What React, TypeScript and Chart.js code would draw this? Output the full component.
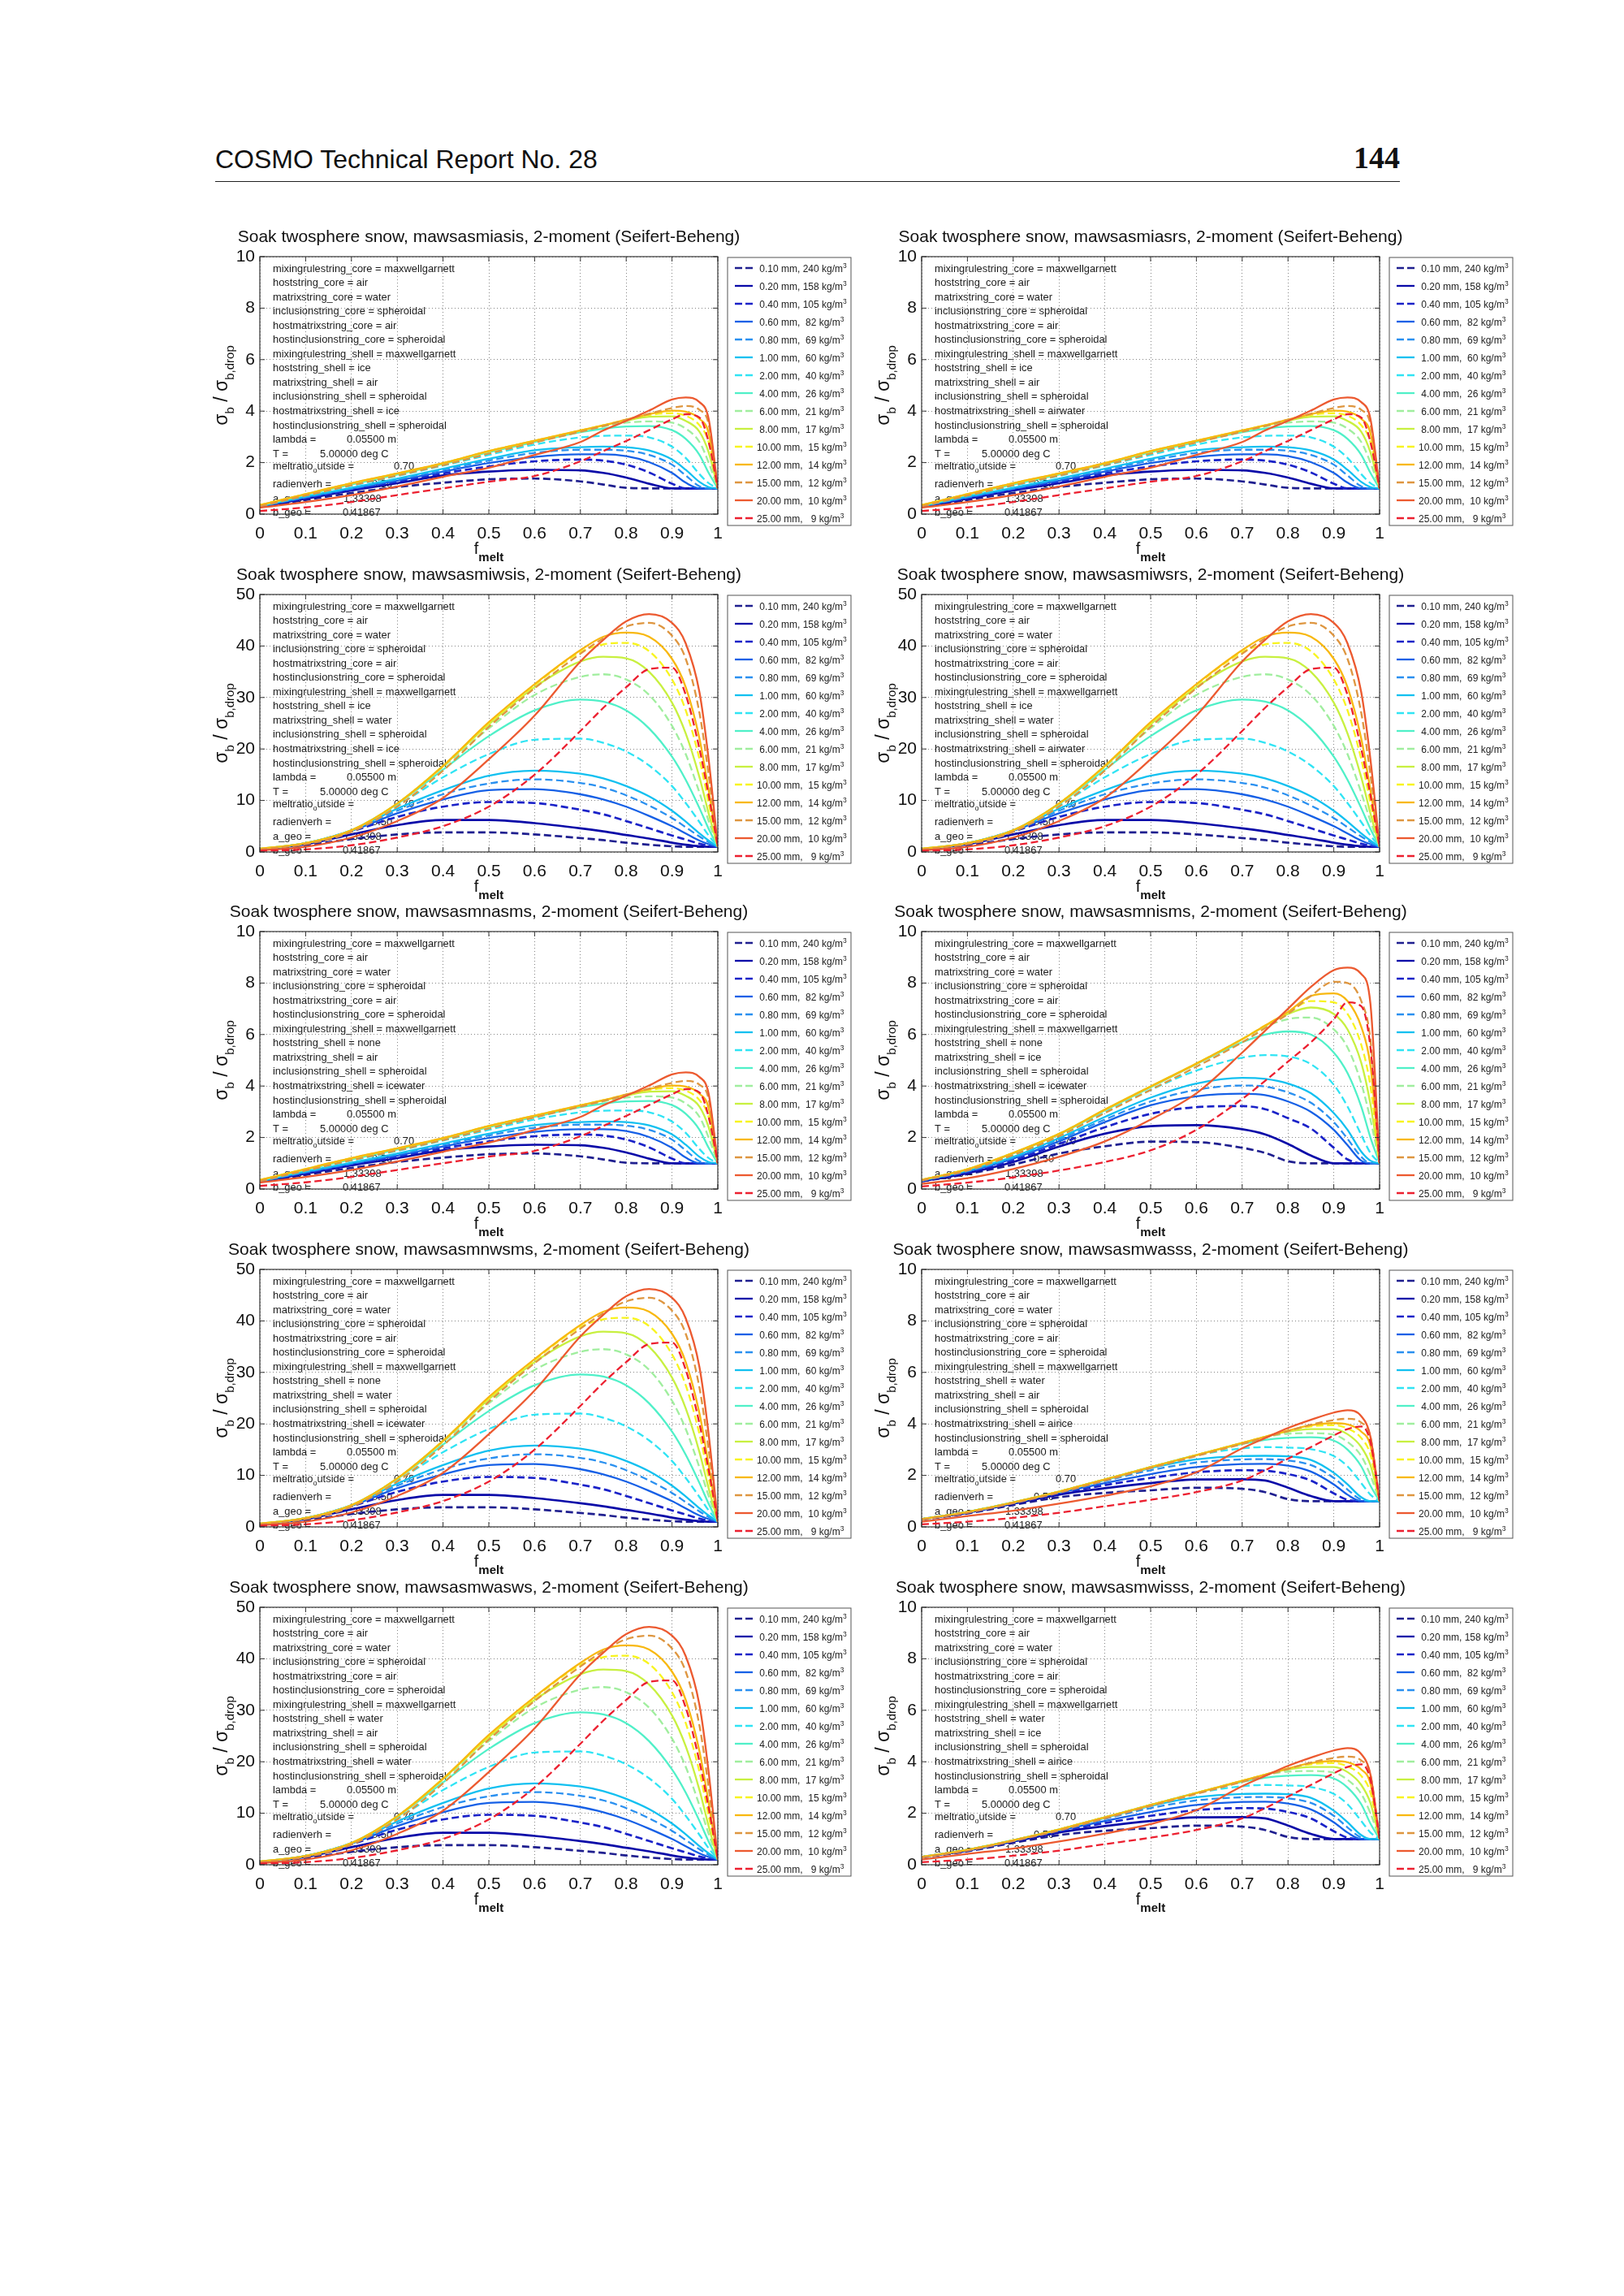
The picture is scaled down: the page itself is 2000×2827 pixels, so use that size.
import React, { useEffect, useRef } from "react";
import { Chart, registerables } from "chart.js";

Chart.register(...registerables);

const FONT = '"Liberation Sans", Arial, Helvetica, sans-serif';

// melt fraction sample points shared by all curves
const fMelt = [0, 0.1, 0.2, 0.3, 0.4, 0.5, 0.6, 0.7, 0.75, 0.8, 0.85, 0.9, 0.93, 0.96, 0.98, 1.0];

// legend categories
const diameterMm = [0.1, 0.2, 0.4, 0.6, 0.8, 1, 2, 4, 6, 8, 10, 12, 15, 20, 25];
const densityKg = [240, 158, 105, 82, 69, 60, 40, 26, 21, 17, 15, 14, 12, 10, 9];

const lineColors = [
  "#1f1f8f", "#0a0aa8", "#1a22c8", "#1660e6", "#2a90f0",
  "#12c0f0", "#30e4f4", "#50f0c8", "#a0ee9e", "#c8f040",
  "#f8f420", "#f8b810", "#de9640", "#ec5a30", "#ec2030",
];
const dashedSeries = [true, false, true, false, true, false, true, false, true, false, true, false, true, false, true];

// sigma_b / sigma_b,drop, ice shell in air (miasis, miasrs, nasms)
const ratioIceAir = [
  [0.28, 0.55, 0.82, 1.05, 1.22, 1.35, 1.38, 1.27, 1.15, 1.02, 1.0, 1.0, 1.0, 1.0, 1.0, 1.0],
  [0.3, 0.6, 0.92, 1.2, 1.5, 1.65, 1.72, 1.7, 1.6, 1.42, 1.18, 1.0, 1.0, 1.0, 1.0, 1.0],
  [0.3, 0.62, 0.95, 1.25, 1.58, 1.85, 2.05, 2.12, 2.08, 1.92, 1.62, 1.18, 1.0, 1.0, 1.0, 1.0],
  [0.3, 0.64, 0.98, 1.3, 1.65, 1.98, 2.22, 2.32, 2.32, 2.25, 2.02, 1.6, 1.22, 1.0, 1.0, 1.0],
  [0.3, 0.66, 1.0, 1.35, 1.72, 2.08, 2.38, 2.5, 2.5, 2.46, 2.3, 1.92, 1.5, 1.08, 1.0, 1.0],
  [0.3, 0.68, 1.02, 1.38, 1.76, 2.15, 2.48, 2.6, 2.62, 2.6, 2.47, 2.12, 1.72, 1.25, 1.05, 1.0],
  [0.32, 0.72, 1.1, 1.48, 1.88, 2.3, 2.7, 2.98, 3.04, 3.05, 2.98, 2.62, 2.18, 1.55, 1.2, 1.0],
  [0.33, 0.75, 1.15, 1.53, 1.94, 2.4, 2.8, 3.18, 3.32, 3.4, 3.42, 3.26, 2.92, 2.3, 1.6, 1.0],
  [0.34, 0.76, 1.17, 1.56, 1.96, 2.43, 2.83, 3.22, 3.4, 3.55, 3.6, 3.55, 3.32, 2.8, 2.0, 1.0],
  [0.35, 0.77, 1.19, 1.57, 1.97, 2.44, 2.84, 3.24, 3.44, 3.63, 3.78, 3.8, 3.62, 3.2, 2.4, 1.0],
  [0.35, 0.78, 1.2, 1.58, 1.98, 2.45, 2.85, 3.25, 3.45, 3.66, 3.85, 3.92, 3.82, 3.45, 2.8, 1.0],
  [0.35, 0.78, 1.2, 1.58, 1.98, 2.45, 2.85, 3.25, 3.45, 3.67, 3.88, 4.02, 3.98, 3.7, 3.15, 1.0],
  [0.3, 0.72, 1.12, 1.5, 1.9, 2.35, 2.78, 3.2, 3.42, 3.66, 3.9, 4.12, 4.2, 4.05, 3.5, 1.0],
  [0.25, 0.47, 0.74, 1.07, 1.45, 1.8, 2.3, 2.8, 3.25, 3.62, 4.02, 4.45, 4.53, 4.35, 3.7, 1.0],
  [0.12, 0.26, 0.47, 0.74, 1.0, 1.26, 1.48, 2.05, 2.45, 2.84, 3.26, 3.68, 3.88, 3.75, 2.8, 1.0],
];

// water matrix in the shell (miwsis, miwsrs, nwsms, wasws)
const ratioWaterShell = [
  [0.5, 1.3, 2.5, 3.4, 3.8, 3.8, 3.4, 2.7, 2.3, 1.8, 1.4, 1.1, 1.0, 1.0, 1.0, 1.0],
  [0.5, 1.5, 3.4, 5.2, 6.2, 6.2, 5.6, 4.6, 4.0, 3.3, 2.6, 1.8, 1.4, 1.1, 1.0, 1.0],
  [0.5, 1.6, 4.0, 6.8, 8.8, 9.7, 9.5, 8.2, 7.3, 6.0, 4.6, 3.2, 2.4, 1.6, 1.2, 1.0],
  [0.5, 1.7, 4.1, 7.5, 10.2, 12.0, 12.2, 11.2, 10.2, 8.8, 7.0, 5.0, 3.6, 2.2, 1.5, 1.0],
  [0.5, 1.7, 4.2, 8.0, 11.2, 13.3, 14.1, 13.4, 12.5, 11.0, 9.0, 6.6, 4.8, 3.0, 1.9, 1.0],
  [0.5, 1.7, 4.2, 8.4, 12.0, 14.8, 15.8, 15.2, 14.3, 12.8, 10.8, 8.0, 5.9, 3.6, 2.2, 1.0],
  [0.6, 1.7, 4.2, 9.0, 14.5, 19.0, 21.8, 22.0, 21.2, 19.5, 16.8, 12.8, 9.5, 5.8, 3.2, 1.0],
  [0.6, 1.7, 4.2, 9.3, 16.0, 22.5, 27.5, 29.6, 29.2, 27.5, 24.0, 18.5, 14.0, 8.5, 4.5, 1.0],
  [0.6, 1.7, 4.2, 9.4, 16.5, 24.0, 30.5, 34.0, 34.5, 33.5, 30.5, 24.5, 19.0, 11.5, 6.0, 1.0],
  [0.6, 1.7, 4.2, 9.4, 16.7, 24.8, 32.0, 37.0, 37.9, 37.6, 35.0, 29.0, 23.0, 14.5, 7.5, 1.0],
  [0.6, 1.7, 4.2, 9.4, 16.7, 25.0, 32.4, 38.8, 40.3, 40.6, 39.0, 33.5, 27.5, 18.0, 9.5, 1.0],
  [0.6, 1.7, 4.2, 9.4, 16.7, 25.2, 32.6, 39.2, 41.8, 42.6, 41.8, 37.5, 32.0, 22.0, 12.0, 1.0],
  [0.5, 1.5, 3.9, 8.8, 15.8, 24.3, 31.8, 38.5, 41.5, 43.8, 44.5, 42.0, 37.5, 27.0, 15.0, 1.0],
  [0.3, 1.0, 2.8, 6.0, 10.5, 18.0, 26.5, 37.0, 41.2, 44.8, 46.2, 44.5, 40.5, 31.0, 18.0, 1.0],
  [0.2, 0.5, 1.3, 2.8, 5.0, 8.8, 15.0, 23.5, 28.0, 32.0, 35.5, 35.8, 30.5, 20.0, 11.0, 1.0],
];

// ice matrix, no host in the shell (nisms)
const ratioIceMatrix = [
  [0.3, 0.58, 0.95, 1.38, 1.66, 1.84, 1.82, 1.6, 1.4, 1.08, 1.0, 1.0, 1.0, 1.0, 1.0, 1.0],
  [0.3, 0.62, 1.05, 1.65, 2.15, 2.44, 2.48, 2.32, 2.12, 1.75, 1.3, 1.0, 1.0, 1.0, 1.0, 1.0],
  [0.32, 0.65, 1.12, 1.75, 2.4, 2.92, 3.18, 3.22, 3.1, 2.75, 2.35, 1.6, 1.15, 1.0, 1.0, 1.0],
  [0.32, 0.68, 1.18, 1.85, 2.6, 3.25, 3.6, 3.7, 3.65, 3.4, 3.0, 2.3, 1.7, 1.1, 1.0, 1.0],
  [0.33, 0.7, 1.22, 1.92, 2.7, 3.4, 3.85, 4.02, 3.98, 3.75, 3.35, 2.6, 1.95, 1.25, 1.0, 1.0],
  [0.33, 0.72, 1.25, 1.98, 2.8, 3.55, 4.1, 4.32, 4.28, 4.1, 3.72, 2.95, 2.3, 1.45, 1.1, 1.0],
  [0.34, 0.75, 1.32, 2.08, 2.98, 3.85, 4.6, 5.1, 5.2, 5.15, 4.85, 4.05, 3.2, 2.1, 1.4, 1.0],
  [0.35, 0.76, 1.38, 2.12, 3.05, 3.95, 4.85, 5.7, 6.0, 6.12, 6.0, 5.3, 4.5, 3.2, 2.0, 1.0],
  [0.35, 0.77, 1.4, 2.14, 3.08, 3.98, 4.87, 5.82, 6.3, 6.6, 6.66, 6.2, 5.5, 4.1, 2.7, 1.0],
  [0.35, 0.77, 1.4, 2.14, 3.08, 3.98, 4.87, 5.82, 6.33, 6.8, 7.05, 6.8, 6.2, 4.9, 3.3, 1.0],
  [0.35, 0.77, 1.4, 2.14, 3.08, 3.98, 4.87, 5.82, 6.35, 6.85, 7.3, 7.25, 6.8, 5.6, 4.0, 1.0],
  [0.35, 0.77, 1.4, 2.14, 3.08, 3.98, 4.87, 5.82, 6.35, 6.88, 7.5, 7.6, 7.3, 6.3, 4.8, 1.0],
  [0.33, 0.72, 1.32, 2.05, 2.95, 3.85, 4.75, 5.7, 6.25, 6.8, 7.5, 8.05, 8.0, 7.3, 5.8, 1.0],
  [0.2, 0.42, 0.78, 1.25, 1.85, 2.7, 3.72, 5.3, 6.15, 7.0, 7.85, 8.5, 8.6, 8.35, 7.2, 1.0],
  [0.1, 0.25, 0.45, 0.72, 1.05, 1.5, 2.3, 3.5, 4.2, 4.95, 5.7, 6.6, 7.25, 7.1, 5.5, 1.0],
];

// water host with airice matrix mixing (wasss, wisss)
const ratioWaterHost = [
  [0.28, 0.52, 0.85, 1.15, 1.32, 1.42, 1.52, 1.48, 1.35, 1.08, 1.0, 1.0, 1.0, 1.0, 1.0, 1.0],
  [0.3, 0.55, 0.9, 1.25, 1.5, 1.7, 1.84, 1.85, 1.8, 1.52, 1.2, 1.0, 1.0, 1.0, 1.0, 1.0],
  [0.3, 0.57, 0.92, 1.3, 1.62, 1.9, 2.12, 2.2, 2.18, 2.05, 1.8, 1.3, 1.05, 1.0, 1.0, 1.0],
  [0.3, 0.57, 0.93, 1.33, 1.7, 2.05, 2.32, 2.44, 2.45, 2.38, 2.15, 1.65, 1.25, 1.0, 1.0, 1.0],
  [0.3, 0.57, 0.94, 1.35, 1.78, 2.2, 2.5, 2.62, 2.63, 2.58, 2.4, 1.9, 1.45, 1.05, 1.0, 1.0],
  [0.3, 0.58, 0.95, 1.36, 1.82, 2.28, 2.62, 2.75, 2.76, 2.74, 2.6, 2.1, 1.65, 1.15, 1.0, 1.0],
  [0.3, 0.58, 0.95, 1.37, 1.84, 2.32, 2.78, 3.05, 3.1, 3.08, 3.02, 2.75, 2.35, 1.7, 1.25, 1.0],
  [0.3, 0.58, 0.95, 1.37, 1.84, 2.32, 2.79, 3.22, 3.38, 3.46, 3.48, 3.35, 3.0, 2.35, 1.6, 1.0],
  [0.3, 0.58, 0.95, 1.37, 1.84, 2.32, 2.79, 3.26, 3.48, 3.62, 3.64, 3.58, 3.3, 2.75, 2.0, 1.0],
  [0.3, 0.58, 0.95, 1.37, 1.84, 2.32, 2.79, 3.26, 3.5, 3.7, 3.8, 3.8, 3.6, 3.1, 2.4, 1.0],
  [0.3, 0.58, 0.95, 1.37, 1.84, 2.32, 2.79, 3.26, 3.5, 3.73, 3.9, 3.95, 3.82, 3.45, 2.8, 1.0],
  [0.3, 0.58, 0.95, 1.37, 1.84, 2.32, 2.79, 3.26, 3.5, 3.74, 3.95, 4.03, 3.98, 3.7, 3.15, 1.0],
  [0.28, 0.55, 0.92, 1.33, 1.8, 2.28, 2.75, 3.22, 3.47, 3.72, 3.97, 4.15, 4.2, 4.05, 3.5, 1.0],
  [0.2, 0.42, 0.63, 0.9, 1.21, 1.58, 2.12, 3.05, 3.45, 3.84, 4.16, 4.44, 4.53, 4.3, 3.5, 1.0],
  [0.1, 0.2, 0.35, 0.55, 0.8, 1.05, 1.35, 1.8, 2.2, 2.65, 3.1, 3.55, 3.8, 3.9, 3.3, 1.0],
];

// one entry per panel, left to right, top to bottom
const caseNames = [
  "mawsasmiasis", "mawsasmiasrs", "mawsasmiwsis", "mawsasmiwsrs", "mawsasmnasms",
  "mawsasmnisms", "mawsasmnwsms", "mawsasmwasss", "mawsasmwasws", "mawsasmwisss",
];
const hostShell = ["ice", "ice", "ice", "ice", "none", "none", "none", "water", "water", "water"];
const matrixShell = ["air", "air", "water", "water", "air", "ice", "water", "air", "air", "ice"];
const hostMatrixShell = ["ice", "airwater", "ice", "airwater", "icewater", "icewater", "icewater", "airice", "water", "airice"];
const yMaxes = [10, 10, 50, 50, 10, 10, 50, 10, 50, 10];
const panelCurves = [
  ratioIceAir, ratioIceAir, ratioWaterShell, ratioWaterShell, ratioIceAir,
  ratioIceMatrix, ratioWaterShell, ratioWaterHost, ratioWaterShell, ratioWaterHost,
];

const coreLines = [
  "mixingrulestring_core = maxwellgarnett",
  "hoststring_core = air",
  "matrixstring_core = water",
  "inclusionstring_core = spheroidal",
  "hostmatrixstring_core = air",
  "hostinclusionstring_core = spheroidal",
  "mixingrulestring_shell = maxwellgarnett",
];

type Part = { t: string; size: number; dy?: number; bold?: boolean };

function setFont(ctx: CanvasRenderingContext2D, p: Part) {
  ctx.font = `${p.bold ? "bold " : ""}${p.size}px ${FONT}`;
}

function partsWidth(ctx: CanvasRenderingContext2D, parts: Part[]) {
  let w = 0;
  for (const p of parts) {
    setFont(ctx, p);
    w += ctx.measureText(p.t).width;
  }
  return w;
}

function drawParts(ctx: CanvasRenderingContext2D, parts: Part[], x: number, y: number) {
  let cx = x;
  for (const p of parts) {
    setFont(ctx, p);
    ctx.fillText(p.t, cx, y + (p.dy || 0));
    cx += ctx.measureText(p.t).width;
  }
}

function legendLabel(k: number) {
  return diameterMm[k].toFixed(2).padStart(5, " ") + " mm, " + String(densityKg[k]).padStart(3, " ") + " kg/m";
}

function makePanelPlugin(idx: number) {
  return {
    id: "panelDecor" + idx,
    beforeDatasetsDraw(chart: any) {
      const ctx: CanvasRenderingContext2D = chart.ctx;
      const { left, top } = chart.chartArea;
      const fs = 12.9;
      ctx.save();
      ctx.fillStyle = "#1c1c1c";
      ctx.textBaseline = "alphabetic";
      ctx.textAlign = "left";
      ctx.font = `${fs}px ${FONT}`;
      const lines = [
        ...coreLines,
        "hoststring_shell = " + hostShell[idx],
        "matrixstring_shell = " + matrixShell[idx],
        "inclusionstring_shell = spheroidal",
        "hostmatrixstring_shell = " + hostMatrixShell[idx],
        "hostinclusionstring_shell = spheroidal",
      ];
      const x0 = left + 16;
      const yl = (k: number) => top + 18.5 + 17.55 * k;
      lines.forEach((s, k) => ctx.fillText(s, x0, yl(k)));
      ctx.fillText("lambda =", x0, yl(12));
      ctx.fillText("0.05500 m", x0 + 91, yl(12));
      ctx.fillText("T =", x0, yl(13));
      ctx.fillText("5.00000 deg C", x0 + 58, yl(13));
      drawParts(ctx, [
        { t: "meltratio", size: fs },
        { t: "o", size: 9, dy: 4 },
        { t: "utside =", size: fs },
      ], x0, top + 261.5);
      ctx.font = `${fs}px ${FONT}`;
      ctx.fillText("0.70", x0 + 149, top + 261.5);
      ctx.fillText("radienverh =", x0, top + 283.5);
      ctx.fillText("0.50", x0 + 122, top + 283.5);
      ctx.fillText("a_geo =", x0, top + 301.5);
      ctx.fillText("1.33398", x0 + 87, top + 301.5);
      ctx.fillText("b_geo =", x0, top + 318.5);
      ctx.fillText("0.41867", x0 + 86, top + 318.5);
      ctx.restore();
    },
    afterDatasetsDraw(chart: any) {
      const ctx: CanvasRenderingContext2D = chart.ctx;
      const { left, top, right, bottom } = chart.chartArea;
      const xs = chart.scales.x;
      const ys = chart.scales.y;
      ctx.save();
      ctx.strokeStyle = "#333";
      ctx.lineWidth = 1.2;
      ctx.setLineDash([]);
      ctx.strokeRect(left, top, right - left, bottom - top);
      ctx.lineWidth = 1;
      ctx.beginPath();
      xs.ticks.forEach((t: any) => {
        const px = xs.getPixelForValue(t.value);
        ctx.moveTo(px, bottom);
        ctx.lineTo(px, bottom - 6);
        ctx.moveTo(px, top);
        ctx.lineTo(px, top + 6);
      });
      ys.ticks.forEach((t: any) => {
        const py = ys.getPixelForValue(t.value);
        ctx.moveTo(left, py);
        ctx.lineTo(left + 6, py);
        ctx.moveTo(right, py);
        ctx.lineTo(right - 6, py);
      });
      ctx.stroke();
      ctx.restore();
    },
    afterDraw(chart: any) {
      const ctx: CanvasRenderingContext2D = chart.ctx;
      const { left, top, right, bottom } = chart.chartArea;
      const cx = (left + right) / 2;
      const cy = (top + bottom) / 2;
      ctx.save();
      ctx.fillStyle = "#111";
      ctx.textBaseline = "alphabetic";

      // panel title
      ctx.textAlign = "center";
      ctx.font = `21px ${FONT}`;
      ctx.fillText(`Soak twosphere snow, ${caseNames[idx]}, 2-moment (Seifert-Beheng)`, cx, top - 18);

      // x axis label
      ctx.textAlign = "left";
      const xl: Part[] = [
        { t: "f", size: 20 },
        { t: "melt", size: 15, dy: 9, bold: true },
      ];
      drawParts(ctx, xl, cx - partsWidth(ctx, xl) / 2, bottom + 49);

      // y axis label
      const yl: Part[] = [
        { t: "σ", size: 23 },
        { t: "b", size: 15, dy: 8 },
        { t: " / ", size: 23 },
        { t: "σ", size: 23 },
        { t: "b,drop", size: 15, dy: 8 },
      ];
      ctx.save();
      ctx.translate(left - 40, cy);
      ctx.rotate(-Math.PI / 2);
      drawParts(ctx, yl, -partsWidth(ctx, yl) / 2, 0);
      ctx.restore();

      // legend
      const lx = right + 12;
      const ly = top + 1;
      ctx.strokeStyle = "#555";
      ctx.lineWidth = 1;
      ctx.strokeRect(lx, ly, 152, 330);
      diameterMm.forEach((_, k) => {
        const rowY = top + 15 + 22 * k;
        ctx.save();
        ctx.strokeStyle = lineColors[k];
        ctx.lineWidth = 2.3;
        ctx.setLineDash(dashedSeries[k] ? [9, 4] : []);
        ctx.beginPath();
        ctx.moveTo(lx + 9, rowY - 1);
        ctx.lineTo(lx + 31, rowY - 1);
        ctx.stroke();
        ctx.restore();
        ctx.fillStyle = "#222";
        drawParts(ctx, [
          { t: legendLabel(k), size: 12 },
          { t: "3", size: 8.5, dy: -5 },
        ], lx + 36, rowY + 4);
      });
      ctx.restore();
    },
  };
}

function Panel({ idx }: { idx: number }) {
  const canvasRef = useRef<HTMLCanvasElement>(null);
  const col = idx % 2;
  const row = Math.floor(idx / 2);
  const plotLeft = col === 0 ? 320 : 1135;
  const plotTop = 316 + 415.7 * row;

  useEffect(() => {
    if (!canvasRef.current) return;
    const yMax = yMaxes[idx];
    const curves = panelCurves[idx];
    const tickFont = { size: 21, family: FONT };
    const chart = new Chart(canvasRef.current, {
      type: "line",
      data: {
        datasets: curves.map((vals, k) => ({
          label: legendLabel(k),
          data: fMelt.map((f, j) => ({ x: f, y: vals[j] })),
          borderColor: lineColors[k],
          borderWidth: k < 3 ? 2.7 : 2.3,
          borderDash: dashedSeries[k] ? [9, 4.5] : [],
          pointRadius: 0,
          cubicInterpolationMode: "monotone" as const,
          fill: false,
          order: 14 - k,
        })),
      },
      options: {
        responsive: false,
        animation: false,
        devicePixelRatio: 1,
        events: [],
        layout: { padding: { left: 0, top: 50, right: 176, bottom: 0 } },
        plugins: {
          legend: { display: false },
          tooltip: { enabled: false },
          title: { display: false },
        },
        scales: {
          x: {
            type: "linear",
            min: 0,
            max: 1,
            afterFit: (s: any) => {
              s.height = 90;
            },
            ticks: {
              stepSize: 0.1,
              autoSkip: false,
              maxRotation: 0,
              padding: 12,
              color: "#111",
              font: tickFont,
              callback: (v: any) => String(Math.round(Number(v) * 10) / 10),
            },
            grid: { color: "#858585", lineWidth: 1, drawTicks: false },
            border: { display: false, dash: [1, 3] },
          },
          y: {
            type: "linear",
            min: 0,
            max: yMax,
            afterFit: (s: any) => {
              s.width = 80;
            },
            ticks: {
              stepSize: yMax / 5,
              padding: 6,
              color: "#111",
              font: tickFont,
            },
            grid: { color: "#858585", lineWidth: 1, drawTicks: false },
            border: { display: false, dash: [1, 3] },
          },
        },
      } as any,
      plugins: [makePanelPlugin(idx)],
    });
    return () => chart.destroy();
  }, [idx]);

  return (
    <canvas
      ref={canvasRef}
      width={820}
      height={457}
      style={{
        position: "absolute",
        left: plotLeft - 80,
        top: Math.round(plotTop - 50),
        width: 820,
        height: 457,
      }}
    />
  );
}

export default function App() {
  return (
    <div
      style={{
        position: "absolute",
        left: 0,
        top: 0,
        width: 2000,
        height: 2827,
        background: "#fff",
        overflow: "hidden",
      }}
    >
      <div
        style={{
          position: "absolute",
          left: 265,
          top: 180,
          font: `32px ${FONT}`,
          lineHeight: "32px",
          color: "#111",
          whiteSpace: "nowrap",
        }}
      >
        COSMO Technical Report No. 28
      </div>
      <div
        style={{
          position: "absolute",
          left: 1424,
          top: 175,
          width: 300,
          textAlign: "right",
          font: 'bold 38px "Liberation Serif", "Times New Roman", serif',
          lineHeight: "38px",
          color: "#111",
        }}
      >
        144
      </div>
      <div
        style={{
          position: "absolute",
          left: 265,
          top: 223,
          width: 1459,
          height: 0,
          borderTop: "1.5px solid #222",
        }}
      />
      {caseNames.map((_, i) => (
        <Panel key={i} idx={i} />
      ))}
    </div>
  );
}
